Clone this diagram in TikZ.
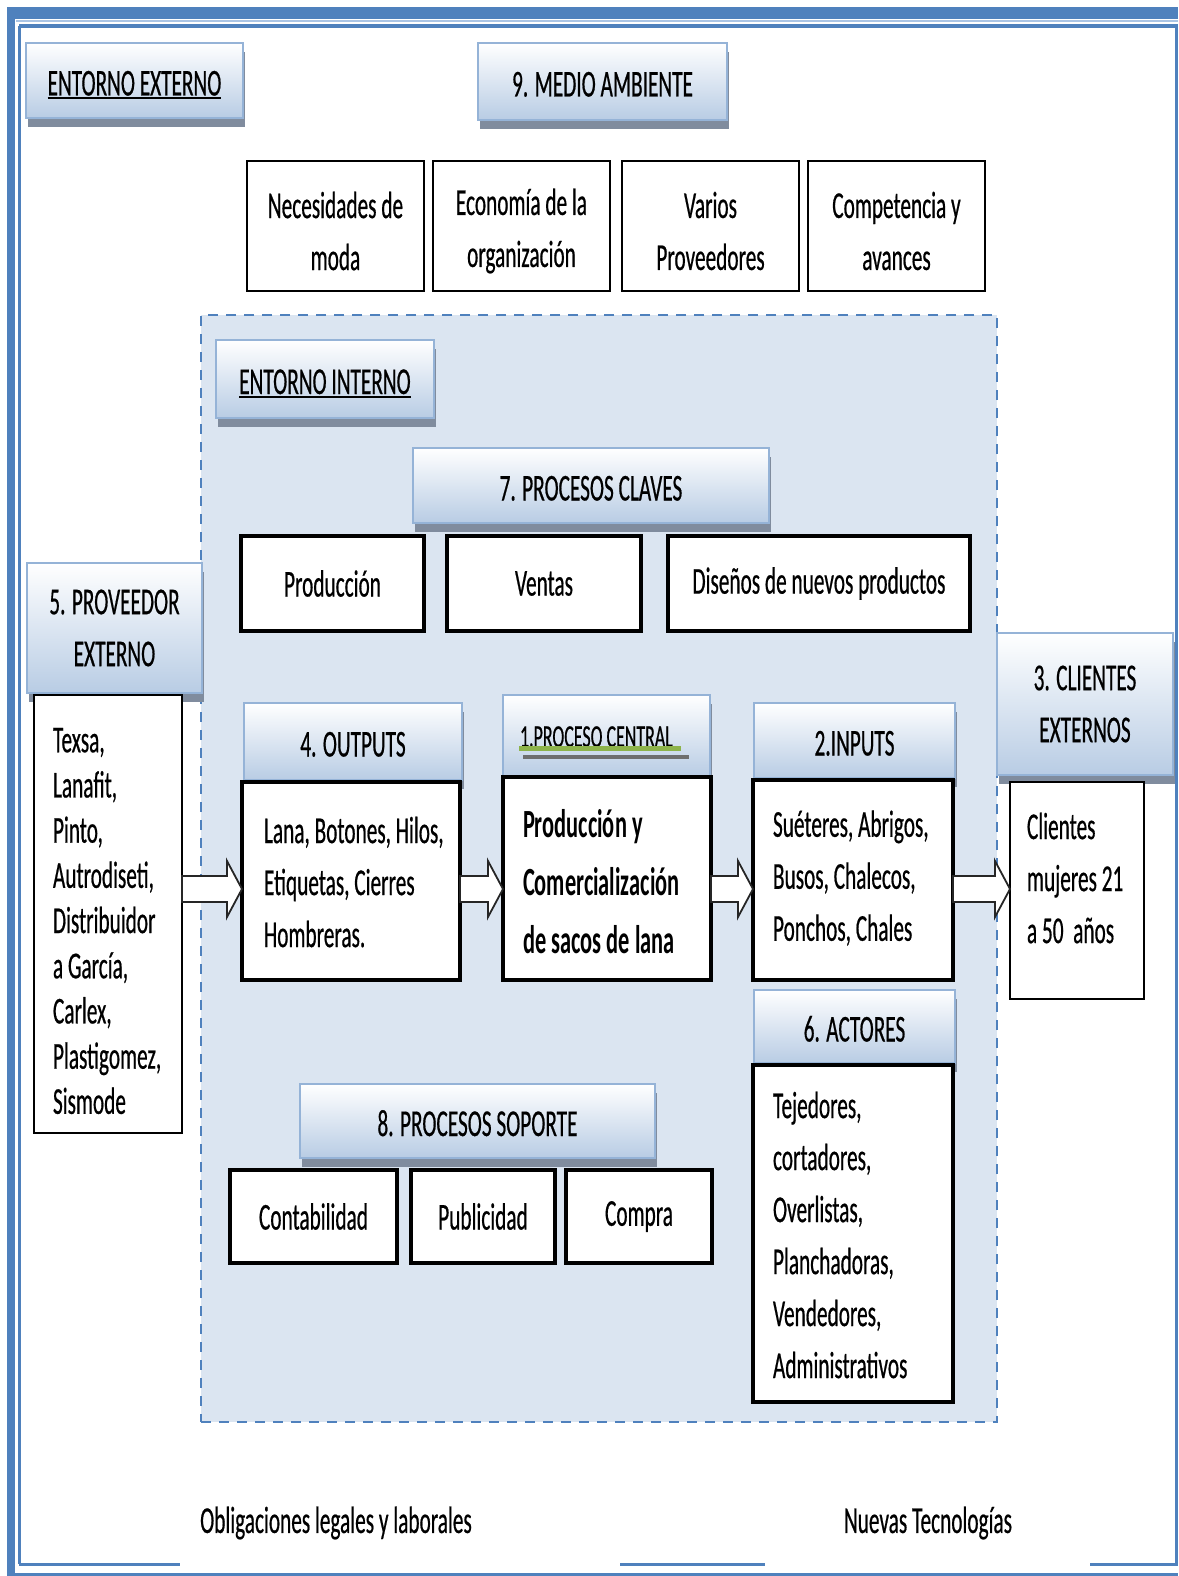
\documentclass[tikz,border=0pt]{standalone}
\usepackage{fontspec}
\setmainfont{Carlito}[FakeStretch=0.56, UprightFeatures={FakeBold=0.5}]
\usetikzlibrary{shadows,calc}

\definecolor{frameblue}{RGB}{79,129,189}
\definecolor{framelight}{RGB}{170,196,228}
\definecolor{regionfill}{RGB}{219,229,241}
\definecolor{hdrbot}{RGB}{184,204,228}
\definecolor{hdrline}{RGB}{149,179,215}
\definecolor{hdrshadow}{RGB}{128,140,158}
\definecolor{markgreen}{RGB}{141,179,74}
\definecolor{markgrey}{RGB}{110,110,110}

% text with a solid rule under it
\newcommand\hdrul[1]{\setbox0\hbox{#1}\rlap{\rule[-4pt]{\wd0}{2.2pt}}\box0}

% block arrow between two nodes at a given height
\newcommand\flowarrow[3]{%
  \coordinate (#1-#2-s) at (#1.east|-0,#3);
  \coordinate (#1-#2-e) at (#2.west|-0,#3);
  \draw[flowarr] ($(#1-#2-s)+(0,-13)$) -- ($(#1-#2-e)+(-15,-13)$) -- ($(#1-#2-e)+(-15,-28)$)
    -- (#1-#2-e) -- ($(#1-#2-e)+(-15,28)$) -- ($(#1-#2-e)+(-15,13)$) -- ($(#1-#2-s)+(0,13)$) -- cycle;}

\begin{document}
\begin{tikzpicture}[x=1pt,y=-1pt,
  every node/.style={inner sep=0pt, outer sep=0pt, text=black, font=\fontsize{38}{52}\selectfont},
  hdr/.style={draw=hdrline, line width=1.2pt, top color=white, bottom color=hdrbot, align=center,
    drop shadow={shadow xshift=2pt, shadow yshift=-9pt, fill=hdrshadow, opacity=1}},
  hdrone/.style={hdr, text height=30pt, text depth=0pt},
  box/.style={draw=black, fill=white, align=center},
  thinbox/.style={box, line width=1.8pt},
  midbox/.style={box, line width=2.5pt},
  thickbox/.style={box, line width=4.5pt},
  flowarr/.style={draw=black!85, fill=white, line width=1.8pt, line join=miter},
  listtext/.style={anchor=west, align=left},
  boxtext/.style={align=center}
]
\useasboundingbox (0,0) rectangle (1178,1576);

% page frame
\fill[frameblue] (7,7) rectangle (1178,19);
\fill[frameblue] (7,7) rectangle (15,1576);
\draw[framelight, line width=2pt] (16,21.5) -- (1178,21.5);
\draw[frameblue, line width=3.5pt] (19,26) -- (1178,26);
\draw[frameblue, line width=3pt] (19.5,26) -- (19.5,1564);
\draw[frameblue, line width=3pt] (1176,26) -- (1176,1564);
\draw[frameblue, line width=3pt] (19,1564) -- (180,1564);
\draw[frameblue, line width=3pt] (620,1564) -- (765,1564);
\draw[frameblue, line width=3pt] (1090,1564) -- (1177.5,1564);
\draw[frameblue, line width=3pt] (7,1574) -- (1178,1574);

% external environment
\node[hdrone, minimum width=217pt, minimum height=75pt] (ext) at (134.5,80.5) {\hdrul{ENTORNO EXTERNO}};
\node[hdrone, minimum width=249pt, minimum height=77pt] (med) at (602.5,81.5) {9. MEDIO AMBIENTE};

\node[midbox, minimum width=177pt, minimum height=130pt] (nec) at (335.5,226) {};
\node[midbox, minimum width=177pt, minimum height=130pt] (eco) at (521.5,226) {};
\node[midbox, minimum width=177pt, minimum height=130pt] (var) at (710.5,226) {};
\node[midbox, minimum width=177pt, minimum height=130pt] (com) at (896.5,226) {};
\node[boxtext] (nect) at (335.5,231) {Necesidades de\\moda};
\node[boxtext] (ecot) at (521.5,231) {Economía de la\\organización};
\node[boxtext] (vart) at (710.5,231) {Varios\\Proveedores};
\node[boxtext] (comt) at (896.5,231) {Competencia y\\avances};

% internal environment
\node[draw=frameblue, dash pattern=on 10pt off 8pt, line width=2.8pt, fill=regionfill,
  minimum width=796pt, minimum height=1107pt] (region) at (599,868.5) {};
\node[hdrone, minimum width=218pt, minimum height=78pt] (int) at (325,379) {\hdrul{ENTORNO INTERNO}};

% key processes
\node[hdrone, minimum width=356pt, minimum height=75pt] (clv) at (591,485.5) {7. PROCESOS CLAVES};
\node[thickbox, minimum width=183pt, minimum height=95pt] (prd) at (332.5,583.5) {Producción};
\node[thickbox, minimum width=194pt, minimum height=95pt] (ven) at (544,583.5) {Ventas};
\node[thickbox, minimum width=302pt, minimum height=95pt] (dis) at (819,583.5) {Diseños de nuevos productos};

% external supplier
\node[hdr, minimum width=175pt, minimum height=130pt] (provh) at (114.5,628) {5. PROVEEDOR\\EXTERNO};
\node[thinbox, minimum width=148pt, minimum height=438pt] (prov) at (108,914) {};
\node[listtext, font=\fontsize{38}{45.2}\selectfont] (provt) at (53,921)
  {Texsa,\\Lanafit,\\Pinto,\\Autrodiseti,\\Distribuidor\\a García,\\Carlex,\\Plastigomez,\\Sismode};

% outputs
\node[hdrone, minimum width=218pt, minimum height=77pt] (outh) at (353,741.5) {4. OUTPUTS};
\node[thickbox, minimum width=218pt, minimum height=198pt] (out) at (351,881) {};
\node[listtext] (outt) at (264,882) {Lana, Botones, Hilos,\\Etiquetas, Cierres\\Hombreras.};

% central process
\node[hdr, minimum width=207pt, minimum height=82pt] (cenh) at (606.5,736) {};
\node[anchor=base west, font=\fontsize{32}{40}\selectfont] (cenht) at (520,747) {1.PROCESO CENTRAL};
\draw[markgrey, line width=4pt] (cenht.base west) ++(3,10) -- ++(166,0);
\draw[markgreen, line width=5pt] (cenht.base west) ++(-1,1) -- ++(162,0);
\node[thickbox, minimum width=208pt, minimum height=203pt] (cen) at (607,878.5) {};
\node[listtext, font=\fontsize{40}{58}\bfseries\selectfont] (cent) at (523,882)
  {Producción y\\Comercialización\\de sacos de lana};

% inputs
\node[hdrone, minimum width=201pt, minimum height=75pt] (inh) at (854.5,740.5) {2.INPUTS};
\node[thickbox, minimum width=200pt, minimum height=200pt] (inp) at (853,880) {};
\node[listtext] (inpt) at (773,878) {Suéteres, Abrigos,\\Busos, Chalecos,\\Ponchos, Chales};

% actors
\node[hdrone, minimum width=201pt, minimum height=73pt] (acth) at (854.5,1026.5) {6. ACTORES};
\node[thickbox, minimum width=200pt, minimum height=337pt] (act) at (853,1233.5) {};
\node[listtext] (actt) at (773,1235)
  {Tejedores,\\cortadores,\\Overlistas,\\Planchadoras,\\Vendedores,\\Administrativos};

% external clients
\node[hdr, minimum width=176pt, minimum height=142pt] (clih) at (1085,704) {3. CLIENTES\\EXTERNOS};
\node[thinbox, minimum width=134pt, minimum height=217pt] (cli) at (1077,890.5) {};
\node[listtext] (clit) at (1027,878) {Clientes\\mujeres 21\\a 50\ \ años};

% support processes
\node[hdrone, minimum width=355pt, minimum height=74pt] (sop) at (477.5,1121) {8. PROCESOS SOPORTE};
\node[thickbox, minimum width=167pt, minimum height=93pt] (con) at (313.5,1216.5) {Contabilidad};
\node[thickbox, minimum width=144pt, minimum height=93pt] (pub) at (483,1216.5) {Publicidad};
\node[thickbox, minimum width=146pt, minimum height=93pt] (cmp) at (639,1216.5) {Compra};

% flow arrows
\flowarrow{prov}{out}{889}
\flowarrow{out}{cen}{889}
\flowarrow{cen}{inp}{889}
\flowarrow{inp}{cli}{889}

% outer factors
\node (obl) at (336,1523) {Obligaciones legales y laborales};
\node (tec) at (928,1523) {Nuevas Tecnologías};
\end{tikzpicture}
\end{document}
